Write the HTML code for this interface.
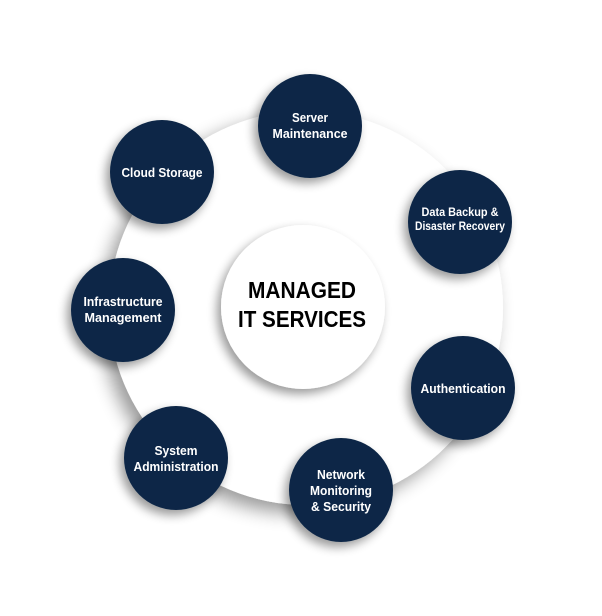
<!DOCTYPE html>
<html><head><meta charset="utf-8"><style>
html,body{margin:0;padding:0;background:#fff;}
svg{display:block}
text{font-family:"Liberation Sans",sans-serif;font-weight:bold;}
.w{fill:#fff;font-size:13px;}
</style></head><body>
<svg width="602" height="616" viewBox="0 0 602 616" xmlns="http://www.w3.org/2000/svg">
<defs>
<filter id="sh" x="-30%" y="-30%" width="160%" height="160%">
<feGaussianBlur in="SourceAlpha" stdDeviation="9"/>
<feOffset dx="-8" dy="8" result="b"/>
<feComponentTransfer><feFuncA type="linear" slope="0.4"/></feComponentTransfer>
<feMerge><feMergeNode/><feMergeNode in="SourceGraphic"/></feMerge>
</filter>
<filter id="sh2" x="-30%" y="-30%" width="160%" height="160%">
<feGaussianBlur in="SourceAlpha" stdDeviation="5"/>
<feOffset dx="-4" dy="5" result="b"/>
<feComponentTransfer><feFuncA type="linear" slope="0.4"/></feComponentTransfer>
<feMerge><feMergeNode/><feMergeNode in="SourceGraphic"/></feMerge>
</filter>
</defs>
<circle cx="306" cy="308" r="197" fill="#fff" filter="url(#sh)"/>
<circle cx="303" cy="307" r="82" fill="#fff" filter="url(#sh2)"/>
<g fill="#0c2846" filter="url(#sh2)">
<circle cx="310" cy="126" r="52"/>
<circle cx="162" cy="172" r="52"/>
<circle cx="460" cy="222" r="52"/>
<circle cx="123" cy="310" r="52"/>
<circle cx="463" cy="388" r="52"/>
<circle cx="341" cy="490" r="52"/>
<circle cx="176" cy="458" r="52"/>
</g>
<g text-anchor="middle" lengthAdjust="spacingAndGlyphs">
<text class="w" x="310" y="122" textLength="36" lengthAdjust="spacingAndGlyphs">Server</text>
<text class="w" x="310" y="138" textLength="75" lengthAdjust="spacingAndGlyphs">Maintenance</text>
<text class="w" x="162" y="177" textLength="81" lengthAdjust="spacingAndGlyphs">Cloud Storage</text>
<text class="w" x="460" y="216" textLength="77" lengthAdjust="spacingAndGlyphs" style="font-size:12px">Data Backup &amp;</text>
<text class="w" x="460" y="230" textLength="90" lengthAdjust="spacingAndGlyphs" style="font-size:12px">Disaster Recovery</text>
<text class="w" x="123" y="306" textLength="79" lengthAdjust="spacingAndGlyphs">Infrastructure</text>
<text class="w" x="123" y="322" textLength="77" lengthAdjust="spacingAndGlyphs">Management</text>
<text class="w" x="463" y="393" textLength="85" lengthAdjust="spacingAndGlyphs">Authentication</text>
<text class="w" x="341" y="479" textLength="48" lengthAdjust="spacingAndGlyphs">Network</text>
<text class="w" x="341" y="495" textLength="62" lengthAdjust="spacingAndGlyphs">Monitoring</text>
<text class="w" x="341" y="511" textLength="60" lengthAdjust="spacingAndGlyphs">&amp; Security</text>
<text class="w" x="176" y="455" textLength="43" lengthAdjust="spacingAndGlyphs">System</text>
<text class="w" x="176" y="471" textLength="85" lengthAdjust="spacingAndGlyphs">Administration</text>
<text x="302" y="298" textLength="108" lengthAdjust="spacingAndGlyphs" style="font-size:23px" fill="#000">MANAGED</text>
<text x="302" y="327" textLength="128" lengthAdjust="spacingAndGlyphs" style="font-size:23px" fill="#000">IT SERVICES</text>
</g>
</svg>
</body></html>
